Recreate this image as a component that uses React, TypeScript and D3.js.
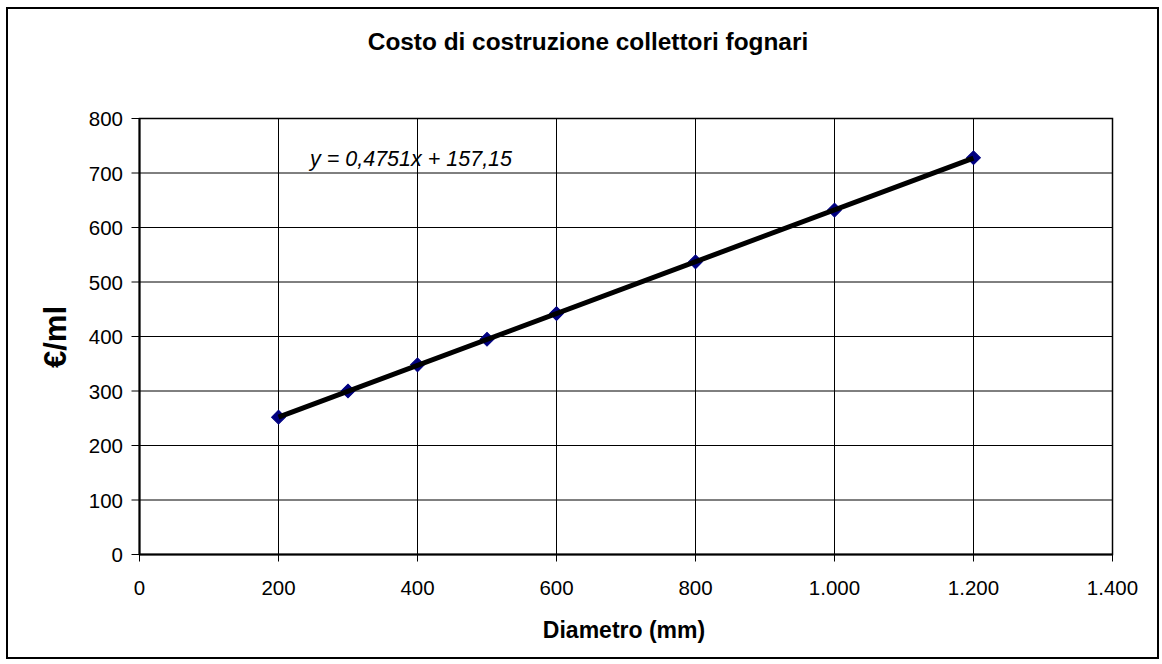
import React from "react";
import * as d3 from "d3";

const diameters = [200, 300, 400, 500, 600, 800, 1000, 1200];
const costs = [252, 300, 348, 395, 442, 537, 632, 728];
const xTicks = [0, 200, 400, 600, 800, 1000, 1200, 1400];
const yTicks = [0, 100, 200, 300, 400, 500, 600, 700, 800];
const slope = 0.4751;
const intercept = 157.15;
const title = "Costo di costruzione collettori fognari";
const xLabel = "Diametro (mm)";
const yLabel = "€/ml";
const equation = "y = 0,4751x + 157,15";

const W = 1162, H = 664;
const left = 139.5, right = 1112.5, top = 118.5, bottom = 554.5;

export default function App() {
  const x = d3.scaleLinear().domain([0, 1400]).range([left, right]);
  const y = d3.scaleLinear().domain([0, 800]).range([bottom, top]);
  const fmt = (v: number) => d3.format(",")(v).replace(/,/g, ".");
  const trendX = [200, 1200];
  const line = d3.line<number>().x(d => x(d)).y(d => y(slope * d + intercept));
  const font = "Arial, 'Liberation Sans', sans-serif";
  const marker = d3.symbol(d3.symbolSquare, 95)() || "";
  return (
    <svg width={W} height={H} style={{ position: "absolute", left: 0, top: 0, background: "#fff" }} fontFamily={font}>
      <rect x={7} y={8} width={1151} height={650} fill="#fff" stroke="#000" strokeWidth={2} />
      <text x={588} y={50} textAnchor="middle" fontSize={24.4} fontWeight="bold">{title}</text>
      {yTicks.map(t => (
        <g key={"y" + t}>
          <line x1={left - 8} x2={right} y1={y(t)} y2={y(t)} stroke="#000" strokeWidth={1} />
          <text x={123} y={y(t) + 7.5} textAnchor="end" fontSize={20.5}>{fmt(t)}</text>
        </g>
      ))}
      {xTicks.map(t => (
        <g key={"x" + t}>
          <line x1={x(t)} x2={x(t)} y1={top} y2={bottom + 7} stroke="#000" strokeWidth={1} />
          <text x={x(t)} y={bottom + 40.5} textAnchor="middle" fontSize={20.5}>{fmt(t)}</text>
        </g>
      ))}
      <rect x={left} y={top} width={right - left} height={bottom - top} fill="none" stroke="#000" strokeWidth={1.5} />
      <line x1={left} x2={left} y1={top} y2={bottom} stroke="#000" strokeWidth={2} />
      <line x1={left} x2={right} y1={bottom} y2={bottom} stroke="#000" strokeWidth={2} />
      {diameters.map((d, i) => (
        <path key={"m" + i} d={marker}
          transform={`translate(${x(d)},${y(costs[i])}) rotate(45)`} fill="#000080" stroke="#000080" strokeWidth={1} />
      ))}
      <path d={line(trendX) || ""} fill="none" stroke="#000" strokeWidth={5} />
      <text x={310} y={166} fontSize={21.5} fontStyle="italic">{equation}</text>
      <text x={624} y={638} textAnchor="middle" fontSize={23} fontWeight="bold">{xLabel}</text>
      <text transform={`translate(66,337) rotate(-90)`} textAnchor="middle" fontSize={31} fontWeight="bold">{yLabel}</text>
    </svg>
  );
}
